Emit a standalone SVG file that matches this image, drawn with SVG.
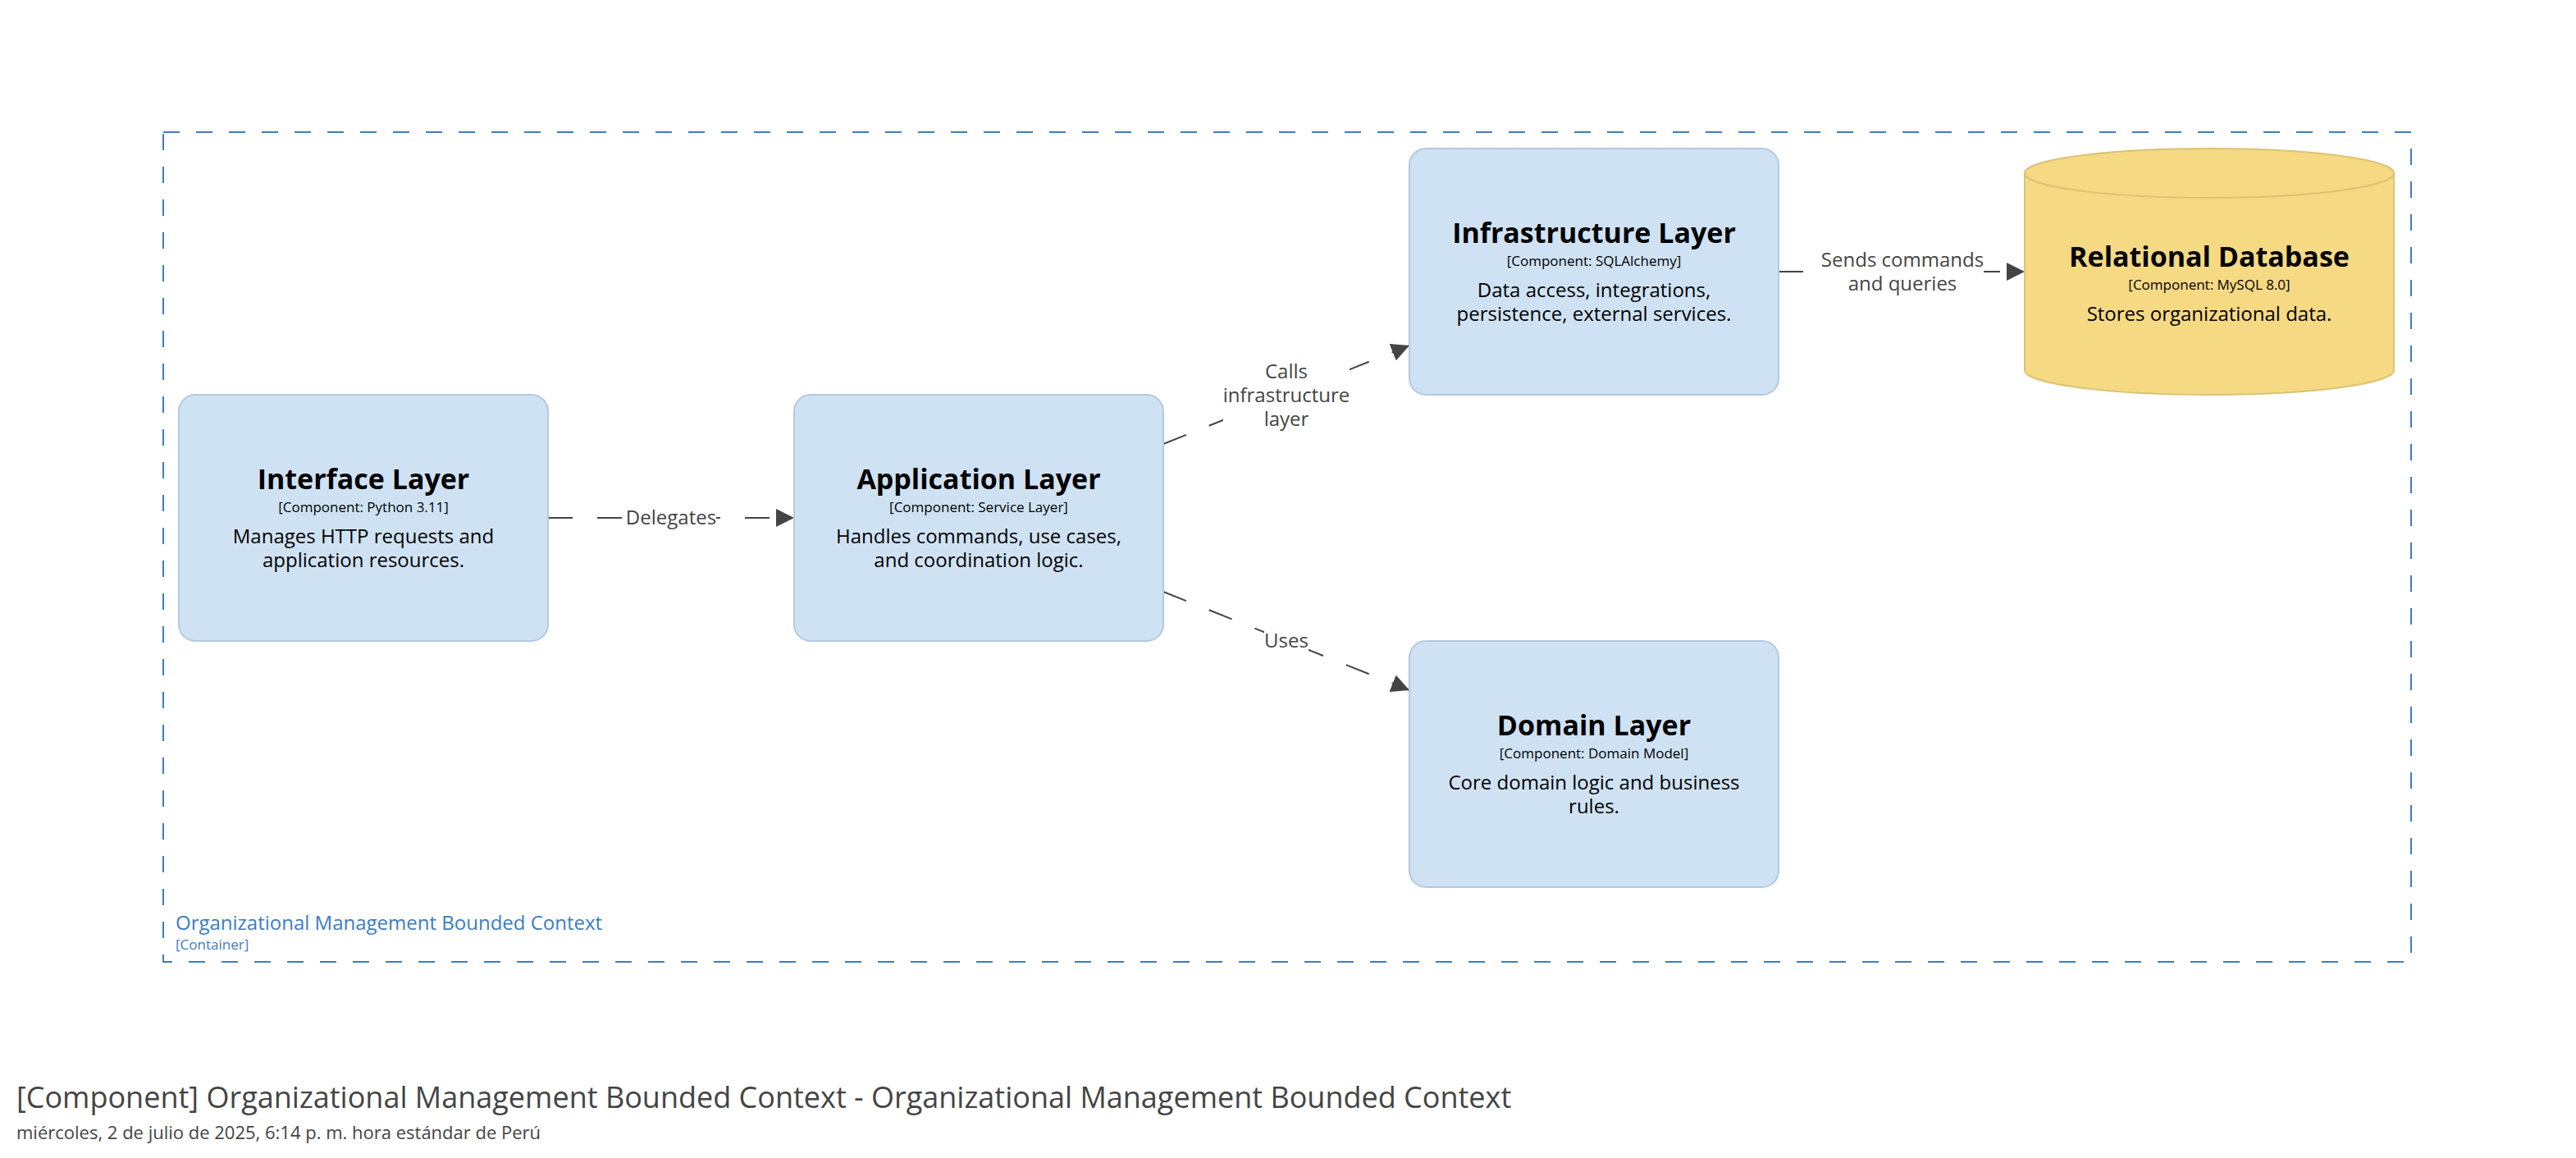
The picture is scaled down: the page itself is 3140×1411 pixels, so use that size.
<svg xmlns="http://www.w3.org/2000/svg" width="3140" height="1411" viewBox="0 0 3140 1411">
<defs>
<style>
text{font-family:"Open Sans","Noto Sans","Liberation Sans",sans-serif;}
.box{fill:#cfe2f3;stroke:#b3c9e0;stroke-width:2;}
.db{fill:#f5d983;stroke:#dcc274;stroke-width:2;}
.name{font-size:34px;font-weight:700;fill:#000;text-anchor:middle;}
.meta{font-size:17px;fill:#000;text-anchor:middle;}
.desc{font-size:24px;fill:#000;text-anchor:middle;}
.edge{fill:none;stroke:#444;stroke-width:2;stroke-dasharray:30 30;}
.lbl{font-size:24px;fill:#444;text-anchor:middle;}
.lblbg{fill:#fff;}
</style>
<marker id="arrow" markerUnits="userSpaceOnUse" markerWidth="22" markerHeight="22" refX="22" refY="11" orient="auto" viewBox="0 0 22 22">
<path d="M0,0 L22,11 L0,22 Z" fill="#444"/>
</marker>
</defs>
<rect width="3140" height="1411" fill="#fff"/>

<g id="boundary">
<rect x="199" y="161" width="2740" height="1011" fill="none" stroke="#3b7dc4" stroke-width="2" stroke-dasharray="20 20"/>
<text x="214" y="1133" font-size="24" fill="#3b7dc4">Organizational Management Bounded Context</text>
<text x="214" y="1157" font-size="17" fill="#3b7dc4">[Container]</text>
</g>

<g id="connectors">
<g id="edge-delegates">
<line class="edge" x1="668" y1="631" x2="968" y2="631" marker-end="url(#arrow)"/>
<rect class="lblbg" x="764" y="615" width="109" height="32"/>
<text class="lbl" x="818" y="639">Delegates</text>
</g>
<g id="edge-calls">
<line class="edge" x1="1418" y1="541" x2="1718" y2="421" marker-end="url(#arrow)"/>
<rect class="lblbg" x="1491" y="439" width="154" height="87"/>
<text class="lbl" x="1568" y="461">Calls</text>
<text class="lbl" x="1568" y="490">infrastructure</text>
<text class="lbl" x="1568" y="519">layer</text>
</g>
<g id="edge-uses">
<line class="edge" x1="1418" y1="721" x2="1718" y2="841" marker-end="url(#arrow)"/>
<rect class="lblbg" x="1541" y="766" width="54" height="30"/>
<text class="lbl" x="1568" y="789">Uses</text>
</g>
<g id="edge-sends">
<line class="edge" x1="2168" y1="331" x2="2468" y2="331" marker-end="url(#arrow)"/>
<rect class="lblbg" x="2220" y="302" width="198" height="58"/>
<text class="lbl" x="2319" y="325">Sends commands</text>
<text class="lbl" x="2319" y="354">and queries</text>
</g>
</g>

<g id="interface-layer">
<rect class="box" x="218" y="481" width="450" height="300" rx="20" ry="20"/>
<text class="name" x="443" y="596">Interface Layer</text>
<text class="meta" x="443" y="624">[Component: Python 3.11]</text>
<text class="desc" x="443" y="662">Manages HTTP requests and</text>
<text class="desc" x="443" y="691">application resources.</text>
</g>

<g id="application-layer">
<rect class="box" x="968" y="481" width="450" height="300" rx="20" ry="20"/>
<text class="name" x="1193" y="596">Application Layer</text>
<text class="meta" x="1193" y="624">[Component: Service Layer]</text>
<text class="desc" x="1193" y="662">Handles commands, use cases,</text>
<text class="desc" x="1193" y="691">and coordination logic.</text>
</g>

<g id="infrastructure-layer">
<rect class="box" x="1718" y="181" width="450" height="300" rx="20" ry="20"/>
<text class="name" x="1943" y="296">Infrastructure Layer</text>
<text class="meta" x="1943" y="324">[Component: SQLAlchemy]</text>
<text class="desc" x="1943" y="362">Data access, integrations,</text>
<text class="desc" x="1943" y="391">persistence, external services.</text>
</g>

<g id="domain-layer">
<rect class="box" x="1718" y="781" width="450" height="300" rx="20" ry="20"/>
<text class="name" x="1943" y="896">Domain Layer</text>
<text class="meta" x="1943" y="924">[Component: Domain Model]</text>
<text class="desc" x="1943" y="962">Core domain logic and business</text>
<text class="desc" x="1943" y="991">rules.</text>
</g>

<g id="relational-database">
<path class="db" d="M2468,211 L2468,451 A225,30 0 0 0 2918,451 L2918,211 A225,30 0 0 0 2468,211 Z"/>
<path class="db" fill="none" d="M2468,211 A225,30 0 0 0 2918,211"/>
<text class="name" x="2693" y="325">Relational Database</text>
<text class="meta" x="2693" y="353">[Component: MySQL 8.0]</text>
<text class="desc" x="2693" y="391">Stores organizational data.</text>
</g>

<g id="title">
<text x="20" y="1350" font-size="36" fill="#444">[Component] Organizational Management Bounded Context - Organizational Management Bounded Context</text>
<text x="20" y="1388" font-size="22" fill="#444">miércoles, 2 de julio de 2025, 6:14 p. m. hora estándar de Perú</text>
</g>
</svg>
